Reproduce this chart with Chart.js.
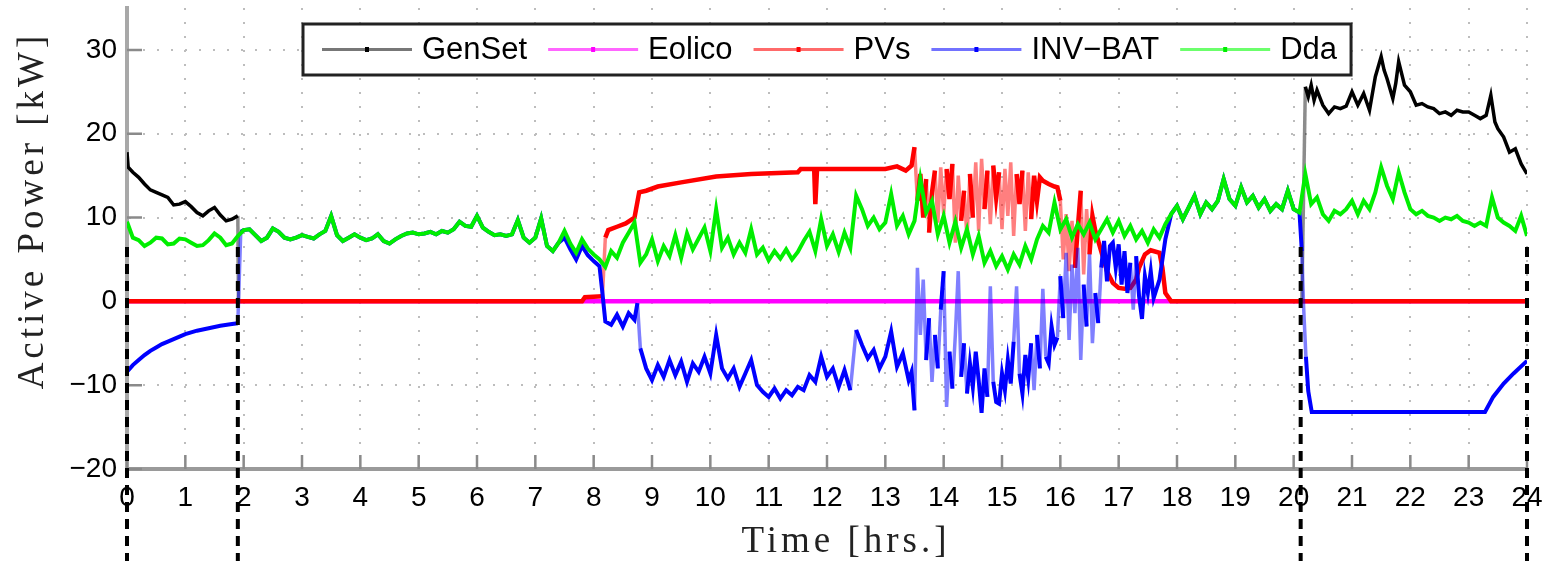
<!DOCTYPE html>
<html>
<head>
<meta charset="utf-8">
<script src="https://cdn.jsdelivr.net/npm/chart.js@4"></script>
<style>
  body { margin: 0; background: #fff; }
  #wrap { width: 1546px; height: 561px; }
</style>
</head>
<body>
<div id="wrap"><canvas id="chart" width="1546" height="561"></canvas></div>
<script>
  // Series names, as in the legend
  const seriesNames = ['GenSet', 'Eolico', 'PVs', 'INV−BAT', 'Dda'];

  // Switching instants (hours) marked with dashed lines
  const switchHours = [0, 1.9, 20.12, 24];

  // GenSet [hour, kW]
  const genSet = [
    [0, 17.8], [0.02, 16.0], [0.1, 15.4], [0.2, 14.8], [0.3, 14.0], [0.4, 13.3], [0.5, 13.0], [0.6, 12.7],
    [0.7, 12.4], [0.8, 11.5], [0.9, 11.6], [1.0, 11.9], [1.1, 11.3], [1.2, 10.6], [1.3, 10.2], [1.4, 10.8],
    [1.5, 11.2], [1.6, 10.3], [1.7, 9.6], [1.8, 9.8], [1.9, 10.2], [1.91, 0], [20.14, 0],
    [20.2, 25.6], [20.25, 24.4], [20.3, 25.8], [20.35, 24.0], [20.4, 25.2], [20.5, 23.4], [20.6, 22.4],
    [20.7, 23.2], [20.8, 23.0], [20.9, 23.3], [21.0, 25.0], [21.1, 23.4], [21.2, 24.8], [21.3, 22.8],
    [21.4, 26.8], [21.5, 29.2], [21.55, 27.6], [21.6, 26.6], [21.7, 24.2], [21.75, 26.0], [21.8, 28.6],
    [21.9, 25.8], [22.0, 25.0], [22.1, 23.4], [22.2, 23.6], [22.3, 23.2], [22.4, 23.0], [22.5, 22.4],
    [22.6, 22.6], [22.7, 22.2], [22.8, 22.8], [22.9, 22.6], [23.0, 22.6], [23.1, 22.2], [23.2, 21.8],
    [23.3, 22.2], [23.38, 24.6], [23.45, 21.4], [23.5, 20.6], [23.6, 19.6], [23.7, 17.8], [23.8, 18.2],
    [23.9, 16.4], [24.0, 15.2]
  ];

  // Eolico [hour, kW]
  const eolico = [[0, 0], [24, 0]];

  // PVs [hour, kW]
  const pvs = [
    [0, 0], [7.8, 0], [7.85, 0.5], [8.15, 0.6], [8.2, 7.6], [8.25, 8.5], [8.4, 8.9], [8.55, 9.3], [8.7, 10.0],
    [8.78, 13.0], [8.9, 13.2], [9.1, 13.7], [9.5, 14.2], [10.1, 14.9], [10.7, 15.2], [11.5, 15.4],
    [11.55, 15.8], [11.78, 15.8], [11.8, 11.6], [11.83, 15.8], [12.4, 15.8], [13.0, 15.8], [13.2, 16.1],
    [13.35, 15.6], [13.45, 16.2], [13.5, 18.4], [13.55, 12.0],
    [13.6, 15.2], [13.65, 10.0], [13.7, 14.6], [13.75, 8.2], [13.8, 13.0], [13.85, 15.6], [13.9, 9.4],
    [13.95, 16.0], [14.0, 10.4], [14.05, 15.8], [14.1, 12.2], [14.15, 16.4], [14.2, 7.0], [14.25, 15.0],
    [14.3, 9.6], [14.35, 13.2], [14.4, 7.6], [14.45, 15.2], [14.5, 10.0], [14.55, 16.6], [14.6, 8.4],
    [14.65, 17.0], [14.7, 11.0], [14.75, 15.6], [14.8, 9.2], [14.85, 16.2], [14.9, 12.4], [14.95, 15.4],
    [15.0, 8.6], [15.05, 15.8], [15.1, 10.2], [15.15, 16.6], [15.2, 7.8], [15.25, 15.2], [15.3, 11.6],
    [15.35, 15.6], [15.4, 8.4], [15.45, 15.4], [15.5, 9.8], [15.55, 15.0], [15.6, 12.0], [15.65, 14.8],
    [15.7, 14.4], [15.8, 14.0], [15.9, 13.7], [15.95, 13.6], [16.0, 12.0], [16.05, 5.0], [16.1, 10.4],
    [16.15, 3.6], [16.2, 9.6], [16.25, 4.0], [16.3, 8.8], [16.35, 13.2], [16.4, 3.2], [16.45, 11.0],
    [16.5, 5.6], [16.55, 10.2], [16.6, 8.4], [16.7, 6.0], [16.8, 3.6], [16.9, 2.2], [17.0, 1.6],
    [17.1, 1.5], [17.2, 1.6], [17.3, 2.6], [17.35, 4.0], [17.45, 5.6], [17.55, 6.1], [17.7, 5.8],
    [17.75, 4.0], [17.8, 1.0], [17.9, 0], [24, 0]
  ];

  // INV-BAT [hour, kW]
  const invBat = [
    [0, -8.4], [0.1, -7.6], [0.2, -7.0], [0.3, -6.4], [0.4, -5.9], [0.5, -5.5], [0.6, -5.1], [0.7, -4.8],
    [0.8, -4.5], [0.9, -4.2], [1.0, -3.9], [1.2, -3.5], [1.4, -3.2], [1.6, -2.9], [1.8, -2.7], [1.9, -2.6],
    [1.95, 8.3], [2.0, 8.5], [2.1, 8.6], [2.2, 7.9], [2.3, 7.2], [2.4, 7.6], [2.5, 8.7], [2.6, 8.3],
    [2.7, 7.6], [2.8, 7.4], [2.9, 7.6], [3.0, 7.9], [3.1, 7.7], [3.2, 7.5], [3.3, 8.0], [3.4, 8.4],
    [3.5, 10.2], [3.6, 7.9], [3.7, 7.2], [3.8, 7.6], [3.9, 8.0], [4.0, 7.6], [4.1, 7.3], [4.2, 7.5],
    [4.3, 8.0], [4.4, 7.2], [4.5, 6.9], [4.6, 7.4], [4.7, 7.8], [4.8, 8.1], [4.9, 8.2], [5.0, 8.0],
    [5.1, 8.1], [5.2, 8.3], [5.3, 8.0], [5.4, 8.4], [5.5, 8.2], [5.6, 8.6], [5.7, 9.5], [5.8, 9.0],
    [5.9, 8.9], [6.0, 10.2], [6.1, 8.8], [6.2, 8.3], [6.3, 7.9], [6.4, 8.0], [6.5, 7.8], [6.6, 8.0],
    [6.7, 9.7], [6.8, 7.6], [6.9, 7.0], [7.0, 7.6], [7.1, 9.9], [7.2, 6.6], [7.3, 6.0], [7.4, 7.0],
    [7.5, 7.6], [7.6, 6.2], [7.7, 5.0], [7.8, 6.6], [7.9, 5.5], [8.0, 4.8], [8.1, 4.2], [8.15, 1.0],
    [8.2, -2.4], [8.3, -2.8], [8.4, -1.6], [8.5, -3.0], [8.6, -1.4], [8.7, -2.2], [8.75, -0.2], [8.8, -5.6],
    [8.9, -8.0], [9.0, -9.4], [9.1, -7.6], [9.2, -9.0], [9.3, -7.0], [9.4, -8.8], [9.5, -7.2], [9.6, -9.6],
    [9.7, -7.4], [9.8, -8.4], [9.9, -6.6], [10.0, -8.6], [10.1, -4.0], [10.2, -8.0], [10.3, -9.2],
    [10.4, -8.0], [10.5, -10.2], [10.6, -8.6], [10.7, -7.0], [10.8, -10.0], [10.9, -10.8], [11.0, -11.4],
    [11.1, -10.4], [11.2, -11.6], [11.3, -10.6], [11.4, -11.2], [11.5, -10.2], [11.6, -10.6], [11.7, -8.8],
    [11.8, -9.6], [11.9, -6.6], [12.0, -9.0], [12.1, -8.0], [12.2, -10.2], [12.3, -8.2], [12.4, -10.6],
    [12.5, -3.4], [12.6, -5.2], [12.7, -6.8], [12.8, -5.8], [12.9, -8.0], [13.0, -6.6], [13.1, -3.6],
    [13.2, -7.8], [13.3, -6.2], [13.4, -9.4], [13.45, -8.4], [13.5, -13.0],
    [13.55, 4.0], [13.6, -4.0], [13.65, 2.6], [13.7, -7.0], [13.75, -2.0], [13.8, -9.6], [13.85, -4.0],
    [13.9, -8.0], [13.95, -1.0], [14.0, 3.6], [14.05, -12.6], [14.1, -6.0], [14.15, -10.4], [14.2, -4.0],
    [14.25, 3.6], [14.3, -9.0], [14.35, -5.0], [14.4, -11.0], [14.45, -7.4], [14.5, -10.2], [14.55, -6.0],
    [14.6, -9.4], [14.65, -13.3], [14.7, -8.0], [14.75, -11.4], [14.8, 1.8], [14.85, -9.6], [14.9, -12.0],
    [14.95, -12.2], [15.0, -8.6], [15.05, -10.6], [15.1, -7.0], [15.15, -9.8], [15.2, -4.8], [15.25, 1.8],
    [15.3, -8.6], [15.35, -11.0], [15.4, -6.4], [15.45, -9.2], [15.5, -5.0], [15.55, -10.6], [15.6, -4.0],
    [15.65, -8.0], [15.7, 1.5], [15.75, -6.6], [15.8, -7.4], [15.85, -3.0], [15.9, -5.2], [15.95, -4.3],
    [16.0, 3.0], [16.05, -2.0], [16.1, 5.8], [16.15, -4.6], [16.2, 4.4], [16.25, -1.4], [16.3, 6.4],
    [16.35, -7.0], [16.4, 2.0], [16.45, -3.0], [16.5, 5.6], [16.55, -5.0], [16.6, 1.0], [16.65, -2.6],
    [16.7, 4.0], [16.75, 7.2], [16.8, 2.4], [16.85, 6.6], [16.9, 7.0], [16.95, 4.0], [17.0, 6.8],
    [17.05, 2.0], [17.1, 6.0], [17.15, 1.0], [17.2, 4.6], [17.25, -1.0], [17.3, 5.4], [17.35, 0.6],
    [17.4, -2.1], [17.45, 3.0], [17.5, 1.0], [17.55, 3.6], [17.6, 0.4], [17.7, 2.6], [17.8, 7.4],
    [17.9, 10.4], [18.0, 11.4], [18.1, 9.8], [18.2, 11.2], [18.3, 12.6], [18.4, 10.4], [18.5, 11.8],
    [18.6, 11.0], [18.7, 12.0], [18.8, 14.6], [18.9, 12.2], [19.0, 11.4], [19.1, 13.6], [19.2, 11.8],
    [19.3, 12.6], [19.4, 11.2], [19.5, 12.2], [19.6, 10.8], [19.7, 11.6], [19.8, 11.0], [19.9, 13.2],
    [20.0, 11.0], [20.1, 10.6], [20.14, 6.0], [20.17, -0.6], [20.21, -6.6], [20.25, -10.7], [20.31, -13.2],
    [23.28, -13.2], [23.42, -11.4], [23.6, -9.8], [23.77, -8.6], [24, -7.1]
  ];

  // Dda (load), kW, one sample every 0.1 h from 0 to 24
  const ddaKW = [
    9.5, 7.6, 7.3, 6.6, 7.0, 7.6, 7.5, 6.8, 6.9, 7.5, 7.4, 7.0, 6.6, 6.7, 7.3, 8.1, 7.6, 6.7, 6.9, 7.8, 8.5,
    8.6, 7.9, 7.2, 7.6, 8.7, 8.3, 7.6, 7.4, 7.6, 7.9, 7.7, 7.5, 8.0, 8.4, 10.2, 7.9, 7.2, 7.6, 8.0, 7.6,
    7.3, 7.5, 8.0, 7.2, 6.9, 7.4, 7.8, 8.1, 8.2, 8.0,
    8.1, 8.3, 8.0, 8.4, 8.2, 8.6, 9.5, 9.0, 8.9, 10.2, 8.8, 8.3, 7.9, 8.0, 7.8, 8.0, 9.7, 7.6, 7.0, 7.6,
    9.9, 6.6, 6.0, 7.0, 8.4, 6.9, 5.8, 7.4, 6.3, 5.6,
    5.0, 4.1, 6.0, 5.2, 7.0, 8.2, 9.4, 4.6, 5.6, 7.4, 4.8, 6.6, 5.4, 7.9, 5.2, 8.1, 6.2, 7.5, 8.8, 6.0,
    11.0, 6.4, 7.6, 5.6, 7.0, 5.8, 8.6, 5.6, 6.4, 4.9, 6.0, 5.1, 6.2, 5.0, 5.9, 7.2, 8.3, 6.0, 9.8, 6.6,
    8.0, 5.9, 8.2, 6.4, 12.6, 11.0, 9.0, 10.0, 8.6, 9.4,
    12.8, 9.0, 10.2, 8.0, 9.6, 14.6, 10.6, 12.0, 8.0, 10.2, 7.0, 9.5, 6.4, 8.6, 5.6, 7.8, 4.6, 6.0, 4.2, 5.4,
    3.8, 5.6, 4.4, 6.6, 5.0, 7.4, 9.0, 8.2, 11.8, 8.6,
    9.8, 7.6, 9.2, 8.0, 9.4, 7.4, 8.6, 9.8, 8.2, 9.6, 7.8, 9.0, 7.4, 8.4, 7.0, 8.6, 7.6, 9.2, 10.4, 11.4,
    9.8, 11.2, 12.6, 10.4, 11.8, 11.0, 12.0, 14.6, 12.2, 11.4, 13.6, 11.8, 12.6, 11.2, 12.2, 10.8, 11.6, 11.0, 13.2, 11.0,
    10.6, 15.2, 11.6, 12.4, 10.4, 9.6, 10.8, 10.4, 11.0, 12.0, 10.4, 12.0, 11.0, 13.0, 16.0, 13.8, 12.2, 15.4, 13.0, 11.0,
    10.4, 10.8, 10.2, 10.0, 9.6, 10.0, 9.8, 10.2, 9.6, 9.4, 9.0, 9.4, 9.0, 12.4, 10.0, 9.4, 9.0, 8.4, 10.2, 7.8
  ];
  const ddaHours = ddaKW.map((_, i) => i / 10);

  const toXY = pairs => pairs.map(p => ({ x: p[0], y: p[1] }));

  // lighter strokes for the near-vertical jumps (the original draws thin lines between its dots)
  const steep = c => {
    const dy = Math.abs(c.p1.y - c.p0.y);
    return dy > 45 && dy > 4 * Math.abs(c.p1.x - c.p0.x);
  };
  const lightWhenSteep = light => ({
    borderColor: c => steep(c) ? light : undefined,
    borderWidth: c => steep(c) ? 3.5 : undefined
  });

  const legendLine = ['#777777', '#ff66ff', '#ff6a6a', '#7272ff', '#6cff6c'];
  const lineColor = ['#000000', '#ff00ff', '#ff0000', '#0000ff', '#00ee00'];

  const legendAndMarks = {
    id: 'legendAndMarks',
    beforeDatasetsDraw(chart) {
      // inward tick marks
      const { ctx, chartArea: ca, scales: { x, y } } = chart;
      ctx.save();
      ctx.strokeStyle = '#8a8a8a';
      ctx.lineWidth = 2.5;
      ctx.beginPath();
      x.ticks.forEach(t => {
        const px = x.getPixelForValue(t.value);
        ctx.moveTo(px, ca.bottom);
        ctx.lineTo(px, ca.bottom - 14);
      });
      y.ticks.forEach(t => {
        const py = y.getPixelForValue(t.value);
        ctx.moveTo(ca.left, py);
        ctx.lineTo(ca.left + 15, py);
      });
      ctx.stroke();
      ctx.restore();
    },
    afterDraw(chart) {
      const { ctx, chartArea: ca, scales: { x, y } } = chart;
      ctx.save();

      // dashed switching lines, running down past the axis
      ctx.setLineDash([10, 7]);
      ctx.lineWidth = 4;
      ctx.strokeStyle = '#000';
      switchHours.forEach(h => {
        const px = x.getPixelForValue(h);
        ctx.beginPath();
        ctx.moveTo(px, y.getPixelForValue(6.5));
        ctx.lineTo(px, chart.height);
        ctx.stroke();
      });
      ctx.setLineDash([]);

      // legend box
      ctx.font = '31px "Liberation Sans"';
      const sample = 90, gapTxt = 10, gapItem = 21, padL = 19, padR = 14;
      const widths = seriesNames.map(n => ctx.measureText(n).width);
      const boxW = padL + padR + widths.reduce((a, w) => a + w + sample + gapTxt, 0) + gapItem * (seriesNames.length - 1);
      const boxL = ca.left + 176, boxT = ca.top + 16, boxH = 51;
      ctx.fillStyle = '#fff';
      ctx.fillRect(boxL, boxT, boxW, boxH);
      ctx.lineWidth = 3;
      ctx.strokeStyle = '#222';
      ctx.strokeRect(boxL, boxT, boxW, boxH);

      const yMid = boxT + boxH / 2;
      let cx = boxL + padL;
      ctx.textBaseline = 'middle';
      ctx.textAlign = 'left';
      seriesNames.forEach((n, i) => {
        ctx.strokeStyle = legendLine[i];
        ctx.lineWidth = 3;
        ctx.beginPath();
        ctx.moveTo(cx, yMid);
        ctx.lineTo(cx + sample, yMid);
        ctx.stroke();
        ctx.fillStyle = lineColor[i];
        ctx.fillRect(cx + sample / 2 - 2, yMid - 2.5, 4, 5);
        ctx.fillStyle = '#000';
        ctx.fillText(n, cx + sample + gapTxt, yMid + 1);
        cx += sample + gapTxt + widths[i] + gapItem;
      });

      // axis titles
      ctx.fillStyle = '#222';
      ctx.font = '37px "Liberation Serif"';
      ctx.letterSpacing = '4px';
      ctx.textAlign = 'center';
      ctx.textBaseline = 'alphabetic';
      ctx.fillText('Time [hrs.]', (ca.left + ca.right) / 2 + 19, chart.height - 9);
      ctx.translate(43, (ca.top + ca.bottom) / 2 - 28);
      ctx.rotate(-Math.PI / 2);
      ctx.fillText('Active Power [kW]', 0, 0);
      ctx.restore();
    }
  };

  const tickFont = { family: 'Liberation Sans', size: 28 };

  new Chart(document.getElementById('chart'), {
    type: 'line',
    data: {
      datasets: [
        { label: seriesNames[0], data: toXY(genSet), borderColor: lineColor[0], borderWidth: 3.5, order: 5,
          segment: lightWhenSteep('rgba(0,0,0,0.45)') },
        { label: seriesNames[1], data: toXY(eolico), borderColor: lineColor[1], borderWidth: 4.5, order: 4 },
        { label: seriesNames[2], data: toXY(pvs), borderColor: lineColor[2], borderWidth: 4.5, order: 3,
          segment: lightWhenSteep('rgba(255,0,0,0.5)') },
        { label: seriesNames[3], data: toXY(invBat), borderColor: lineColor[3], borderWidth: 4, order: 2,
          segment: lightWhenSteep('rgba(0,0,255,0.5)') },
        { label: seriesNames[4], data: ddaHours.map((h, i) => ({ x: h, y: ddaKW[i] })), borderColor: lineColor[4],
          borderWidth: 4, order: 1 }
      ]
    },
    options: {
      responsive: false,
      animation: false,
      devicePixelRatio: 1,
      layout: { padding: { top: 8, right: 19, left: 0, bottom: 0 } },
      elements: { point: { radius: 0 }, line: { tension: 0 } },
      plugins: { legend: { display: false }, tooltip: { enabled: false } },
      scales: {
        x: {
          type: 'linear', min: 0, max: 24,
          ticks: { stepSize: 1, includeBounds: false, autoSkip: false, maxRotation: 0, padding: 12,
                   color: '#000', font: tickFont },
          grid: { color: '#bdbdbd', lineWidth: 2, drawTicks: false },
          border: { color: '#9a9a9a', width: 4, dash: [2, 12] },
          afterFit: s => { s.height = 92; s.paddingLeft = 0; s.paddingRight = 0; }
        },
        y: {
          min: -20, max: 35,
          ticks: { stepSize: 10, includeBounds: false, padding: 10, color: '#000', font: tickFont,
                   callback: v => v < 0 ? '−' + Math.abs(v) : String(v) },
          grid: { color: '#bdbdbd', lineWidth: 2, drawTicks: false },
          border: { color: '#a8a8a8', width: 4, dash: [2, 12] },
          afterFit: s => { s.width = 127; s.paddingTop = 0; s.paddingBottom = 0; }
        }
      }
    },
    plugins: [legendAndMarks]
  });
</script>
</body>
</html>
